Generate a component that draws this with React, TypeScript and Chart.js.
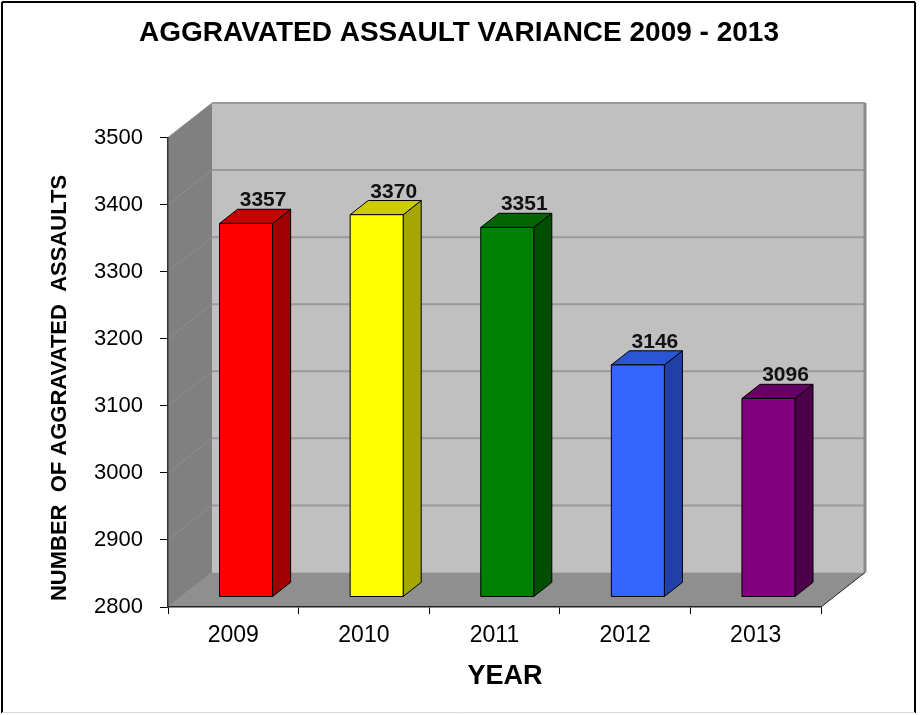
import React, { useEffect, useRef } from 'react';
import { Chart, registerables } from 'chart.js';

Chart.register(...registerables);

const years = ['2009', '2010', '2011', '2012', '2013'];
const assaults = [3357, 3370, 3351, 3146, 3096];
const yMin = 2800;
const yMax = 3500;
const yStep = 100;

const frontColors = ['#ff0000', '#ffff00', '#008000', '#3366ff', '#800080'];
const topColors = ['#c80000', '#cccc00', '#006400', '#2a55d5', '#660066'];
const sideColors = ['#a00000', '#a6a600', '#004f00', '#2040a8', '#4c004c'];

const chartTitle = 'AGGRAVATED ASSAULT VARIANCE 2009 - 2013';
const yTitle = 'NUMBER  OF AGGRAVATED  ASSAULTS';
const xTitle = 'YEAR';

const FONT = '"Liberation Sans", Arial, Helvetica, sans-serif';
const DEPTH = { x: 44, y: -34.5 };
const BAR_FRONT = 0.29;
const BAR_BACK = 0.7;

function poly(ctx: CanvasRenderingContext2D, pts: number[][], fill: string, stroke?: string, lw = 1) {
  ctx.beginPath();
  ctx.moveTo(pts[0][0], pts[0][1]);
  for (let i = 1; i < pts.length; i++) ctx.lineTo(pts[i][0], pts[i][1]);
  ctx.closePath();
  ctx.fillStyle = fill;
  ctx.fill();
  if (stroke) {
    ctx.strokeStyle = stroke;
    ctx.lineWidth = lw;
    ctx.stroke();
  }
}

function line(ctx: CanvasRenderingContext2D, x1: number, y1: number, x2: number, y2: number, color: string, lw: number) {
  ctx.beginPath();
  ctx.moveTo(x1, y1);
  ctx.lineTo(x2, y2);
  ctx.strokeStyle = color;
  ctx.lineWidth = lw;
  ctx.stroke();
}

const threeDPlugin = {
  id: 'threeD',
  beforeDraw(chart: any) {
    const { ctx, chartArea: a, scales } = chart;
    const ys = scales.y;
    const L = a.left, R = a.right, T = a.top, B = a.bottom;
    const dx = DEPTH.x, dy = DEPTH.y;
    ctx.save();
    ctx.fillStyle = '#c0c0c0';
    ctx.fillRect(L + dx, T + dy, R - L, B - T);
    poly(ctx, [[L, T], [L + dx, T + dy], [L + dx, B + dy], [L, B]], '#808080');
    poly(ctx, [[L, B], [L + dx, B + dy], [R + dx, B + dy], [R, B]], '#8f8f8f');
    for (let v = yMin; v <= yMax; v += yStep) {
      const yy = ys.getPixelForValue(v);
      if (v > yMin) line(ctx, L + dx, yy + dy, R + dx, yy + dy, '#9a9a9a', 2);
      line(ctx, L, yy, L + dx, yy + dy, '#8e8e8e', 1);
    }
    line(ctx, L + dx, B + dy, R + dx, B + dy, '#b0b0b0', 1);
    line(ctx, R + dx, T + dy, R + dx, B + dy, '#8a8a8a', 3);
    line(ctx, R, B, R + dx, B + dy, '#222', 1);
    ctx.restore();
  },
  beforeDatasetsDraw(chart: any) {
    const { ctx, chartArea: a } = chart;
    const meta = chart.getDatasetMeta(0);
    const fx = DEPTH.x * BAR_FRONT, fy = DEPTH.y * BAR_FRONT;
    const ddx = DEPTH.x * (BAR_BACK - BAR_FRONT), ddy = DEPTH.y * (BAR_BACK - BAR_FRONT);
    ctx.save();
    ctx.lineJoin = 'round';
    meta.data.forEach((el: any, i: number) => {
      const p = el.getProps(['x', 'y', 'base', 'width'], true);
      const base = Math.min(p.base, a.bottom);
      const Lx = p.x - p.width / 2 + fx;
      const Rx = p.x + p.width / 2 + fx;
      const Ty = p.y + fy;
      const By = base + fy;
      poly(ctx, [[Rx, Ty], [Rx + ddx, Ty + ddy], [Rx + ddx, By + ddy], [Rx, By]], sideColors[i], '#000', 1);
      poly(ctx, [[Lx, Ty], [Lx + ddx, Ty + ddy], [Rx + ddx, Ty + ddy], [Rx, Ty]], topColors[i], '#000', 1);
      ctx.fillStyle = frontColors[i];
      ctx.fillRect(Lx, Ty, Rx - Lx, By - Ty);
      ctx.strokeStyle = '#000';
      ctx.lineWidth = 1;
      ctx.strokeRect(Lx, Ty, Rx - Lx, By - Ty);
      ctx.fillStyle = '#111';
      ctx.font = `bold 21px ${FONT}`;
      ctx.textAlign = 'center';
      ctx.textBaseline = 'alphabetic';
      ctx.fillText(String(assaults[i]), p.x + fx + ddx - 1, Ty + ddy - 3);
    });
    ctx.restore();
    return false;
  },
  afterDraw(chart: any) {
    const { ctx } = chart;
    ctx.save();
    ctx.fillStyle = '#000';
    ctx.textAlign = 'center';
    ctx.textBaseline = 'middle';
    ctx.font = `bold 28px ${FONT}`;
    ctx.fillText(chartTitle, 459, 33);
    ctx.font = `bold 27px ${FONT}`;
    ctx.fillText(xTitle, 505, 677);
    ctx.translate(60, 388);
    ctx.rotate(-Math.PI / 2);
    ctx.font = `bold 22px ${FONT}`;
    ctx.fillText(yTitle, 0, 0);
    ctx.restore();
    ctx.save();
    line(ctx, 2, 2, 915, 2, '#000', 2);
    line(ctx, 2, 2, 2, 713, '#000', 2);
    line(ctx, 915, 2, 915, 713, '#000', 2);
    line(ctx, 2, 712.5, 915, 712.5, '#d8d8d8', 1);
    ctx.restore();
  },
};

export default function App() {
  const ref = useRef<HTMLCanvasElement | null>(null);
  useEffect(() => {
    if (!ref.current) return;
    const chart = new Chart(ref.current, {
      type: 'bar',
      data: {
        labels: years,
        datasets: [
          {
            label: 'Aggravated assaults',
            data: assaults,
            base: yMin,
            backgroundColor: frontColors,
            categoryPercentage: 1,
            barPercentage: 0.406,
          },
        ],
      },
      options: {
        responsive: false,
        animation: false,
        events: [],
        layout: { padding: { top: 137.5, left: 0, right: 99, bottom: 0 } },
        plugins: { legend: { display: false }, tooltip: { enabled: false }, title: { display: false } },
        scales: {
          x: {
            type: 'category',
            offset: true,
            afterFit: (s: any) => { s.height = 108; },
            grid: { offset: true, drawOnChartArea: false, drawTicks: true, tickLength: 7, color: '#000', lineWidth: 1 },
            border: { display: true, color: '#222', width: 1.5 },
            ticks: { color: '#000', font: { family: FONT, size: 23 }, padding: 8 },
          },
          y: {
            min: yMin,
            max: yMax,
            afterFit: (s: any) => { s.width = 168; },
            grid: { drawOnChartArea: false, drawTicks: true, tickLength: 8, color: '#000', lineWidth: 1 },
            border: { display: true, color: '#333', width: 1.5 },
            ticks: {
              stepSize: yStep,
              color: '#000',
              font: { family: FONT, size: 22 },
              padding: 17,
              callback: (v: any) => String(v),
            },
          },
        },
      },
      plugins: [threeDPlugin],
    } as any);
    return () => chart.destroy();
  }, []);
  return (
    <div style={{ position: 'absolute', left: 0, top: 0, width: 920, height: 715, background: '#fff' }}>
      <canvas ref={ref} width={920} height={715} style={{ display: 'block', width: 920, height: 715 }} />
    </div>
  );
}
